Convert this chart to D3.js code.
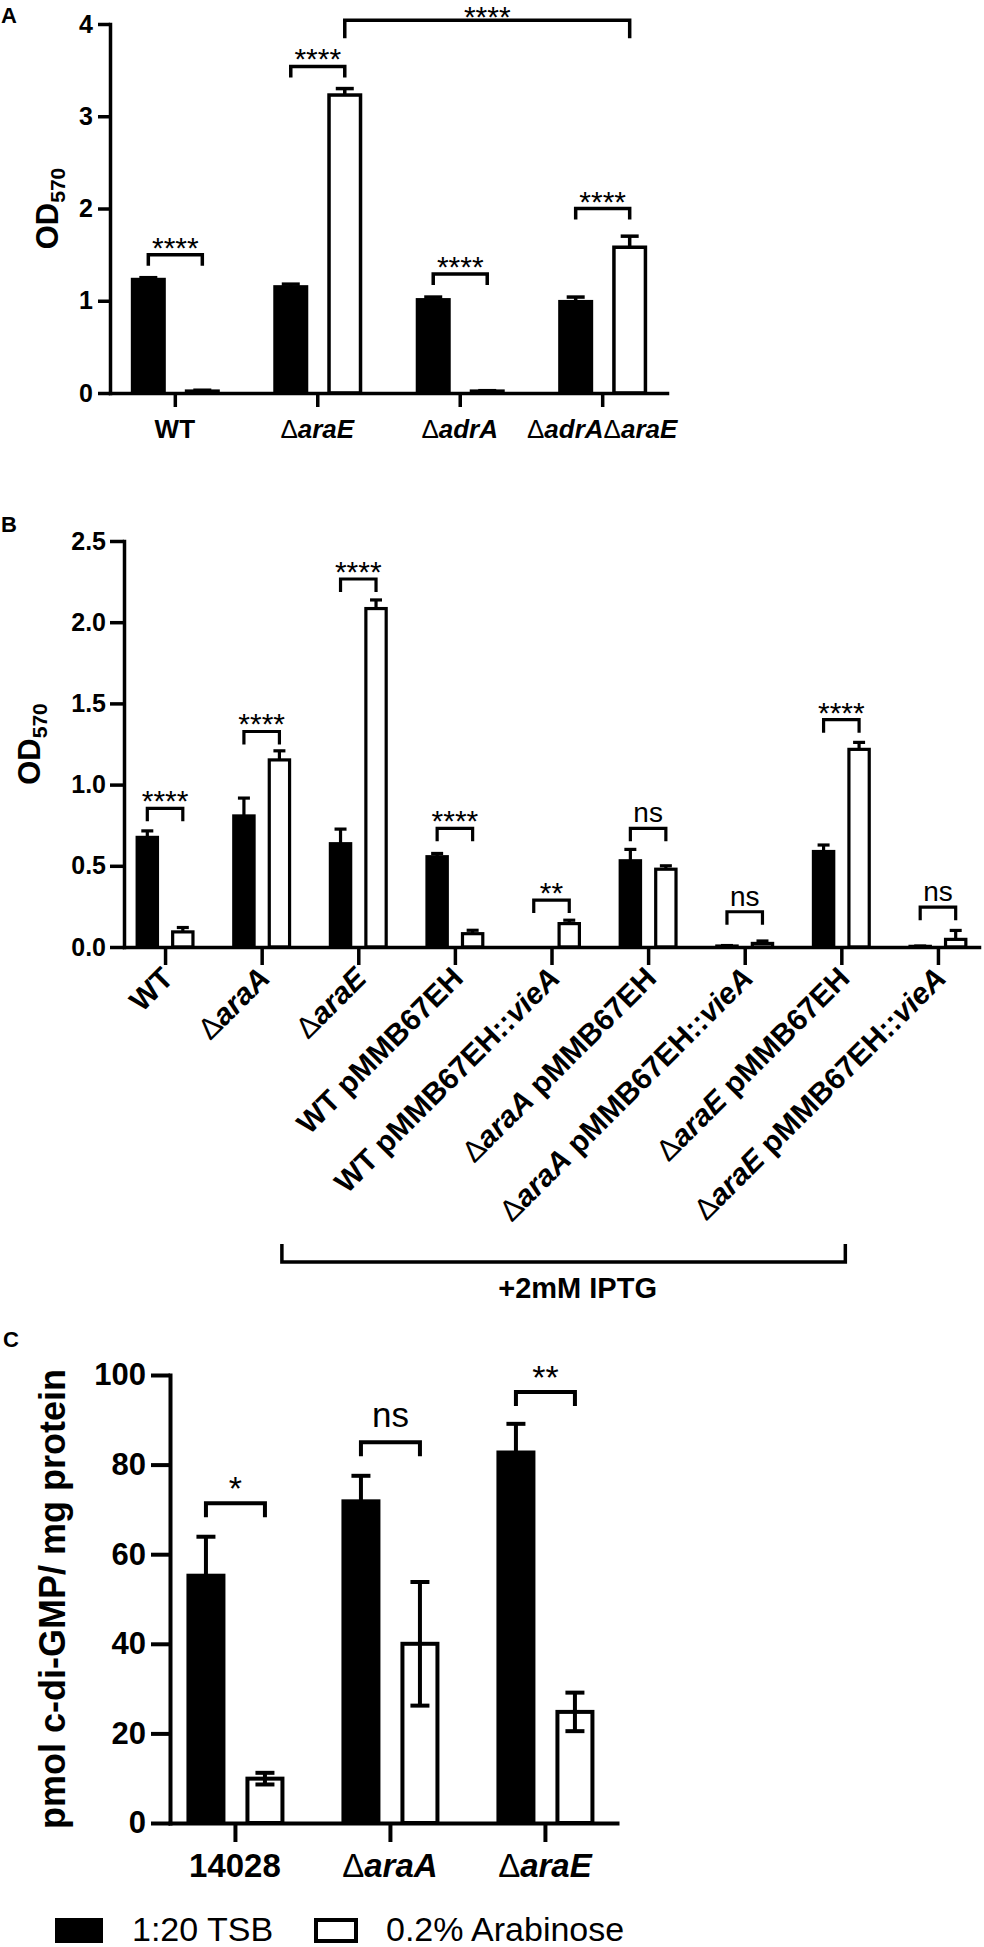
<!DOCTYPE html>
<html><head><meta charset="utf-8">
<script src="https://cdn.jsdelivr.net/npm/d3@7"></script>
<style>
html,body{margin:0;padding:0;background:#fff}
svg{display:block}
text{font-family:"Liberation Sans",Arial,Helvetica,sans-serif;fill:#000}
</style>
</head><body>
<svg id="fig" width="984" height="1947"></svg>
<script>
// ---------------- DATA ----------------
const seriesNames = ["1:20 TSB", "0.2% Arabinose"];

// Panel A
const catsA = ["WT", "ΔaraE", "ΔadrA", "ΔadrAΔaraE"];
const tsbA = [1.23, 1.15, 1.01, 0.99];
const tsbErrA = [0.02, 0.03, 0.03, 0.05];
const araA = [0.02, 3.23, 0.02, 1.58];
const araErrA = [0.01, 0.07, 0.005, 0.12];
const ticksA = [0, 1, 2, 3, 4];
// brackets: [group1, series1, group2, series2, level, label]
const bracketsA = [
  [0, 0, 0, 1, 1.50, "****"],
  [1, 0, 1, 1, 3.54, "****"],
  [2, 0, 2, 1, 1.29, "****"],
  [3, 0, 3, 1, 2.00, "****"],
  [1, 1, 3, 1, 4.04, "****"]
];

// Panel B
const catsB = ["WT", "ΔaraA", "ΔaraE", "WT pMMB67EH", "WT pMMB67EH::vieA",
  "ΔaraA pMMB67EH", "ΔaraA pMMB67EH::vieA", "ΔaraE pMMB67EH", "ΔaraE pMMB67EH::vieA"];
const tsbB = [0.675, 0.807, 0.636, 0.556, 0.0, 0.531, 0.006, 0.588, 0.004];
const tsbErrB = [0.04, 0.11, 0.09, 0.02, 0.0, 0.07, 0.003, 0.04, 0.002];
const araB = [0.093, 1.152, 2.084, 0.082, 0.144, 0.479, 0.022, 1.217, 0.047];
const araErrB = [0.027, 0.056, 0.053, 0.021, 0.021, 0.021, 0.015, 0.043, 0.055];
const ticksB = [0, 0.5, 1.0, 1.5, 2.0, 2.5];
const bracketsB = [
  [0, 0, 0, 1, 0.854, "****"],
  [1, 0, 1, 1, 1.327, "****"],
  [2, 0, 2, 1, 2.266, "****"],
  [3, 0, 3, 1, 0.731, "****"],
  [4, 0, 4, 1, 0.289, "**"],
  [5, 0, 5, 1, 0.731, "ns"],
  [6, 0, 6, 1, 0.217, "ns"],
  [7, 0, 7, 1, 1.400, "****"],
  [8, 0, 8, 1, 0.245, "ns"]
];
const iptgLabel = "+2mM IPTG";

// Panel C
const catsC = ["14028", "ΔaraA", "ΔaraE"];
const tsbC = [55.2, 71.8, 82.7];
const tsbErrC = [8.7, 5.7, 6.4];
const araC = [9.9, 40.0, 24.8];
const araErrC = [1.3, 13.8, 4.3];
const ticksC = [0, 20, 40, 60, 80, 100];
const bracketsC = [
  [0, 0, 0, 1, 71.4, "*"],
  [1, 0, 1, 1, 85.0, "ns"],
  [2, 0, 2, 1, 96.2, "**"]
];

// ---------------- DRAWING ----------------
const svg = d3.select("#fig");
svg.append("rect").attr("width", 984).attr("height", 1947).attr("fill", "#fff");

const GENES = /(araA|araE|adrA|vieA)/;
function richText(sel, label) {
  const parts = label.split(/(Δ|araA|araE|adrA|vieA)/).filter(s => s.length);
  parts.forEach(p => {
    const t = sel.append("tspan").text(p);
    if (p === "Δ") t.attr("font-weight", "normal").attr("font-style", "normal");
    else if (GENES.test(p)) t.attr("font-style", "italic");
  });
}

function panel(cfg) {
  const g = svg.append("g");
  const x = d3.scalePoint().domain(cfg.cats).range(cfg.xRange).padding(cfg.pad).align(cfg.align || 0.5);
  const y = d3.scaleLinear().domain([0, cfg.yMax]).range(cfg.yRange);
  const L = cfg.groupHalf * 2, bw = cfg.barW;
  const x1 = d3.scaleBand().domain([0, 1]).range([-cfg.groupHalf + cfg.shift, cfg.groupHalf + cfg.shift])
    .paddingInner((L - 2 * bw) / (L - bw)).paddingOuter(0);
  const sw = cfg.sw;
  const vals = [cfg.tsb, cfg.ara], errs = [cfg.tsbErr, cfg.araErr];

  // bars
  [0, 1].forEach(s => {
    g.selectAll(null).data(cfg.cats).enter().append("rect")
      .attr("x", d => x(d) + x1(s) + sw / 2)
      .attr("width", x1.bandwidth() - sw)
      .attr("y", (d, i) => Math.min(y(vals[s][i]), y(0)))
      .attr("height", (d, i) => Math.max(0, y(0) - y(vals[s][i])))
      .attr("fill", s === 0 ? "#000" : "#fff")
      .attr("stroke", "#000")
      .attr("stroke-width", (d, i) => vals[s][i] > 0 ? sw : 0);
  });
  // error bars
  [0, 1].forEach(s => {
    cfg.cats.forEach((c, i) => {
      const v = vals[s][i], e = errs[s][i];
      if (!(v > 0) || !(e > 0)) return;
      const cx = x(c) + x1(s) + x1.bandwidth() / 2;
      const lo = cfg.twoSided ? v - e : v;
      g.append("line").attr("x1", cx).attr("x2", cx).attr("y1", y(lo)).attr("y2", y(v + e))
        .attr("stroke", "#000").attr("stroke-width", cfg.esw);
      g.append("line").attr("x1", cx - cfg.cap / 2).attr("x2", cx + cfg.cap / 2)
        .attr("y1", y(v + e)).attr("y2", y(v + e)).attr("stroke", "#000").attr("stroke-width", cfg.esw);
      if (cfg.twoSided) {
        g.append("line").attr("x1", cx - cfg.cap / 2).attr("x2", cx + cfg.cap / 2)
          .attr("y1", y(lo)).attr("y2", y(lo)).attr("stroke", "#000").attr("stroke-width", cfg.esw);
      }
    });
  });

  // axes
  const yAxis = d3.axisLeft(y).tickValues(cfg.ticks).tickSize(cfg.yTick).tickSizeOuter(0)
    .tickPadding(cfg.yPad).tickFormat(cfg.fmt);
  const ya = g.append("g").attr("transform", `translate(${cfg.xRange[0]},0)`).call(yAxis);
  ya.select(".domain").attr("stroke-width", cfg.asw).attr("stroke-linecap", "square");
  ya.selectAll(".tick line").attr("stroke-width", cfg.asw);
  ya.selectAll(".tick text").attr("font-size", cfg.tickFont).attr("font-weight", "bold")
    .attr("font-family", "'Liberation Sans',Arial,sans-serif").attr("fill", "#000");

  const xAxis = d3.axisBottom(x).tickSize(cfg.xTick).tickSizeOuter(0).tickFormat("");
  const xa = g.append("g").attr("transform", `translate(0,${y(0)})`).call(xAxis);
  xa.select(".domain").attr("stroke-width", cfg.asw).attr("stroke-linecap", "square");
  xa.selectAll(".tick line").attr("stroke-width", cfg.asw);

  // category labels
  cfg.cats.forEach(c => {
    const t = g.append("text").attr("font-size", cfg.labFont).attr("font-weight", "bold");
    if (cfg.rotate) {
      t.attr("text-anchor", "end")
        .attr("transform", `translate(${x(c) + cfg.labDx},${y(0) + cfg.labDy}) rotate(-45)`);
    } else {
      t.attr("text-anchor", "middle").attr("x", x(c)).attr("y", cfg.labY);
    }
    richText(t, c);
  });

  // significance brackets
  cfg.brackets.forEach(b => {
    const [g1, s1, g2, s2, lev, lab] = b;
    const xa1 = x(cfg.cats[g1]) + x1(s1) + x1.bandwidth() / 2;
    const xa2 = x(cfg.cats[g2]) + x1(s2) + x1.bandwidth() / 2;
    const yy = y(lev);
    const wide = g1 !== g2;
    const leg = wide ? cfg.bigLeg : cfg.leg;
    g.append("path").attr("d", `M${xa1},${yy + leg}V${yy}H${xa2}V${yy + leg}`)
      .attr("fill", "none").attr("stroke", "#000").attr("stroke-width", cfg.bsw);
    const isNs = lab === "ns";
    g.append("text").attr("x", (xa1 + xa2) / 2)
      .attr("y", yy + (isNs ? cfg.nsDy : (wide ? cfg.bigStarDy : cfg.starDy)))
      .attr("text-anchor", "middle")
      .attr("font-size", isNs ? cfg.nsFont : cfg.starFont)
      .text(lab);
  });

  // y axis title
  const yt = g.append("text").attr("text-anchor", "middle").attr("font-weight", "bold")
    .attr("transform", `translate(${cfg.yTitleX},${(cfg.yRange[0] + cfg.yRange[1]) / 2}) rotate(-90)`);
  if (cfg.yTitleSub) {
    yt.attr("font-size", cfg.yTitleFont);
    yt.append("tspan").text(cfg.yTitle);
    yt.append("tspan").attr("font-size", cfg.yTitleFont * 0.68).attr("dy", cfg.yTitleFont * 0.22).text(cfg.yTitleSub);
  } else {
    yt.attr("font-size", cfg.yTitleFont).text(cfg.yTitle);
  }

  // panel letter
  svg.append("text").attr("x", cfg.letterX).attr("y", cfg.letterY).attr("font-size", 22)
    .attr("font-weight", "bold").text(cfg.letter);
  return { x, y, x1 };
}

// Panel A
panel({
  cats: catsA, tsb: tsbA, tsbErr: tsbErrA, ara: araA, araErr: araErrA, ticks: ticksA,
  brackets: bracketsA, yMax: 4, xRange: [110, 667], yRange: [393, 24], pad: 0.455,
  groupHalf: 44.5, shift: 0.5, barW: 35, sw: 3.5, esw: 3.5, cap: 18, asw: 3.5, bsw: 3.5,
  yTick: 12, yPad: 5, xTick: 14, fmt: d3.format("d"), tickFont: 25,
  labFont: 26, labY: 438, leg: 11, bigLeg: 18, starDy: 3, bigStarDy: 7, nsDy: -6, starFont: 30, nsFont: 28,
  yTitle: "OD", yTitleSub: "570", yTitleFont: 31, yTitleX: 58,
  letter: "A", letterX: 1, letterY: 23
});

// Panel B
const pB = panel({
  cats: catsB, tsb: tsbB, tsbErr: tsbErrB, ara: araB, araErr: araErrB, ticks: ticksB,
  brackets: bracketsB, yMax: 2.5, xRange: [124, 979], yRange: [947, 541], pad: 0.425,
  groupHalf: 29.5, shift: 0, barW: 23.5, sw: 3.2, esw: 3.2, cap: 12, asw: 3.5, bsw: 3.2,
  yTick: 14, yPad: 4, xTick: 18, fmt: d3.format(".1f"), tickFont: 25,
  labFont: 30, rotate: true, labDx: 10, labDy: 33, leg: 13, starDy: 3, nsDy: -6, starFont: 30, nsFont: 28,
  yTitle: "OD", yTitleSub: "570", yTitleFont: 31, yTitleX: 40,
  letter: "B", letterX: 1, letterY: 532
});
// IPTG bracket under the rotated labels
{
  const xl = pB.x(catsB[3]) - 173, xr = pB.x(catsB[7]) + 4;
  svg.append("path").attr("d", `M${xl},1244V1262H${xr}V1244`).attr("fill", "none")
    .attr("stroke", "#000").attr("stroke-width", 3.5);
  svg.append("text").attr("x", (xl + xr) / 2 + 14).attr("y", 1298).attr("text-anchor", "middle")
    .attr("font-size", 29).attr("font-weight", "bold").text(iptgLabel);
}

// Panel C
panel({
  cats: catsC, tsb: tsbC, tsbErr: tsbErrC, ara: araC, araErr: araErrC, ticks: ticksC,
  brackets: bracketsC, yMax: 100, xRange: [170, 617], yRange: [1823, 1375], pad: 0.442, align: 0.474,
  groupHalf: 49, shift: 0.5, barW: 39, sw: 4, esw: 4, cap: 19, asw: 4, bsw: 4,
  yTick: 19, yPad: 5, xTick: 19, fmt: d3.format("d"), tickFont: 31,
  labFont: 33, labY: 1877, leg: 14, starDy: -3, nsDy: -15, starFont: 34, nsFont: 35,
  twoSided: true,
  yTitle: "pmol c-di-GMP/ mg protein", yTitleFont: 36, yTitleX: 65,
  letter: "C", letterX: 3, letterY: 1347
});

// Legend
{
  const lg = svg.append("g");
  const items = [
    { name: seriesNames[0], fill: "#000", bx: 55, bw: 48, tx: 132 },
    { name: seriesNames[1], fill: "#fff", bx: 314, bw: 44, tx: 386 }
  ];
  items.forEach(it => {
    lg.append("rect").attr("x", it.bx + 2).attr("y", 1920).attr("width", it.bw - 4).attr("height", 21)
      .attr("fill", it.fill).attr("stroke", "#000").attr("stroke-width", 4);
    lg.append("text").attr("x", it.tx).attr("y", 1941).attr("font-size", 34).text(it.name);
  });
}
</script>
</body></html>
